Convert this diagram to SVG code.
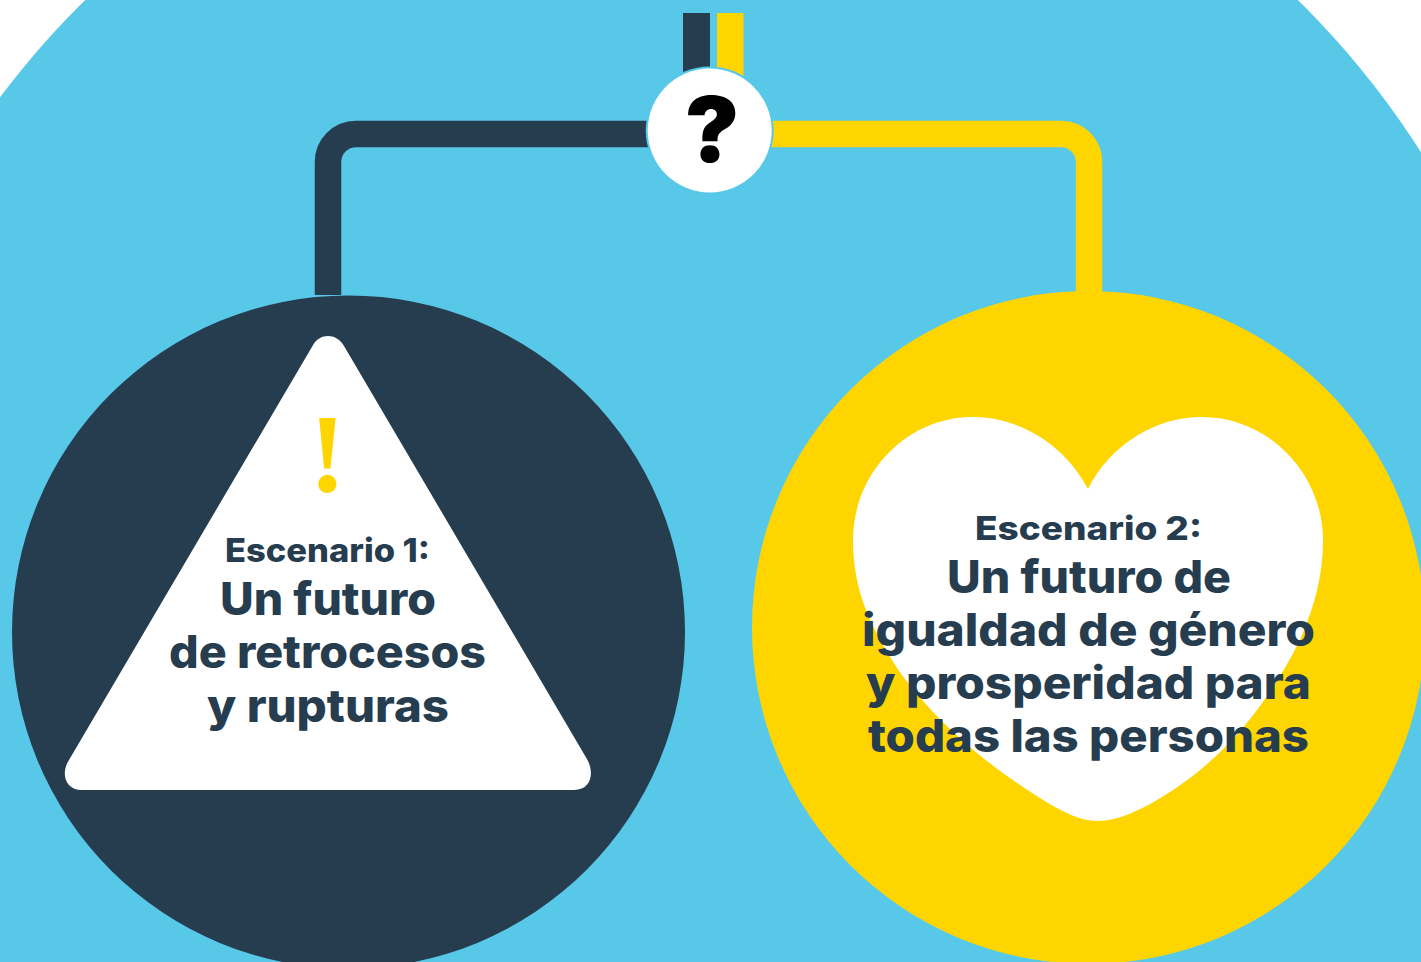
<svg xmlns="http://www.w3.org/2000/svg" width="1421" height="962" viewBox="0 0 1421 962">
<style>
.dark{fill:#263c4f}.yel{fill:#ffd500}.white{fill:#fff}
.wire{fill:none;stroke-width:26.5}
text{font-family:"Inter","Noto Sans","Liberation Sans",sans-serif;font-weight:800;text-anchor:middle;fill:#263c4f}
.sub{font-size:33px}.big{font-size:45px}
</style>
<rect width="1421" height="962" class="white"/>
<circle id="background" cx="691.5" cy="617" r="865" fill="#58c8e8"/>
<g id="connectors">
<path class="wire" stroke="#263c4f" d="M328 295V162A28 28 0 0 1 356 134H650"/>
<path class="wire" stroke="#ffd500" d="M1089 295V162A28 28 0 0 0 1061 134H770"/>
<rect class="dark" x="683" y="13" width="27" height="62"/>
<rect class="yel" x="717" y="13" width="26.500" height="66"/>
</g>
<g id="node-question">
<circle cx="709.700" cy="130.500" r="64" fill="#58c8e8"/>
<circle cx="709.700" cy="130.500" r="62" class="white"/>
<text x="712" y="162" style="font-size:91px;font-weight:900;fill:#000">?</text>
</g>
<g id="node-scenario-1">
<circle cx="348.500" cy="632" r="336.500" class="dark"/>
<path class="white" d="M312.500 346C316 339 322 336 328 336C334 336 340 339 344 346L587.500 760C594 772 592 790 574 790H82C64 790 61 772 69 760Z"/>
<text x="327.500" y="491" style="font-family:'Liberation Serif',serif;font-weight:700;font-size:112px;fill:#ffd500">!</text>
<text class="sub" x="327.500" y="562" textLength="205" lengthAdjust="spacingAndGlyphs">Escenario 1:</text>
<text class="big" x="328" y="615" textLength="216" lengthAdjust="spacingAndGlyphs">Un futuro</text>
<text class="big" x="327.500" y="668" textLength="317" lengthAdjust="spacingAndGlyphs">de retrocesos</text>
<text class="big" x="328" y="722" textLength="242" lengthAdjust="spacingAndGlyphs">y rupturas</text>
</g>
<g id="node-scenario-2">
<circle cx="1088.500" cy="627.500" r="336.500" class="yel"/>
<path class="white" d="M1088 489C1065 445 1020 417 973 417C905 417 853 475 853 540C853 590 870 625 895 665C925 710 975 755 1020 785C1050 805 1075 821 1098 821C1125 821 1160 800 1190 778C1240 740 1275 690 1300 640C1315 605 1323 575 1323 540C1323 475 1270 417 1202 417C1155 417 1110 445 1088 489Z"/>
<text class="sub" x="1088.500" y="540" textLength="227" lengthAdjust="spacingAndGlyphs">Escenario 2:</text>
<text class="big" x="1089" y="593" textLength="284" lengthAdjust="spacingAndGlyphs">Un futuro de</text>
<text class="big" x="1088.500" y="646" textLength="453" lengthAdjust="spacingAndGlyphs">igualdad de género</text>
<text class="big" x="1088.500" y="699" textLength="445" lengthAdjust="spacingAndGlyphs">y prosperidad para</text>
<text class="big" x="1088.500" y="752" textLength="441" lengthAdjust="spacingAndGlyphs">todas las personas</text>
</g>
</svg>
